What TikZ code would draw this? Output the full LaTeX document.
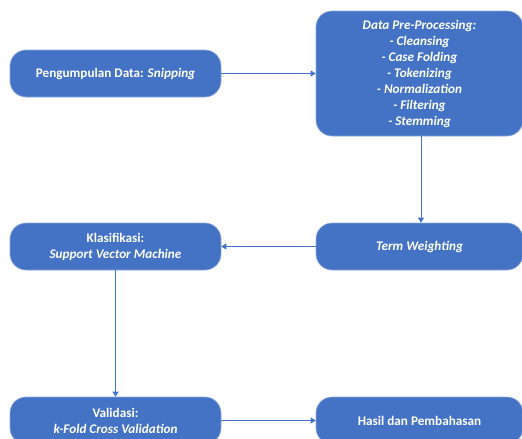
\documentclass[tikz,border=0pt]{standalone}
\usepackage{fontspec}
\setmainfont{Carlito}
\usetikzlibrary{arrows.meta}
\definecolor{boxblue}{HTML}{4472C4}
\definecolor{edgeblue}{HTML}{8FAADC}
\begin{document}
\begin{tikzpicture}[x=1pt,y=-1pt,
  stage/.style={draw=edgeblue, line width=0.6pt, fill=boxblue, rounded corners=16pt,
    text=white, font=\fontsize{13.2}{16}\selectfont\bfseries, align=center, inner sep=0pt},
  flow/.style={draw=boxblue, line width=0.9pt, -{Triangle[length=5pt,width=6pt]}}]
\useasboundingbox (0,0) rectangle (522,439);
\begin{scope}
\clip (0,0) rectangle (522,439);
\node[stage, minimum width=211pt, minimum height=47pt] (collect) at (115.5,73.5) {Pengumpulan Data: \textit{Snipping}};
\node[stage, minimum width=207pt, minimum height=125pt] (prep) at (419.5,73.5) {\textit{Data Pre-Processing:}\\\textit{- Cleansing}\\\textit{- Case Folding}\\\textit{- Tokenizing}\\\textit{- Normalization}\\\textit{- Filtering}\\\textit{- Stemming}};
\node[stage, minimum width=207pt, minimum height=47pt] (tw) at (419.5,246.5) {\textit{Term Weighting}};
\node[stage, minimum width=211pt, minimum height=47pt] (svm) at (115.5,246.5) {Klasifikasi:\\\textit{Support Vector Machine}};
\node[stage, minimum width=211pt, minimum height=47pt] (val) at (115.5,420.5) {Validasi:\\\textit{k-Fold Cross Validation}};
\node[stage, minimum width=207pt, minimum height=47pt] (res) at (419.5,420.5) {Hasil dan Pembahasan};
\end{scope}
\draw[flow] (collect.east) -- (prep.west |- collect.east);
\draw[flow] (prep.south -| tw.north) ++(1.5,0) coordinate (pd) -- (pd |- tw.north);
\draw[flow] (tw.west) -- (svm.east);
\draw[flow] (svm.south) -- (val.north);
\draw[flow] (val.east) -- (res.west);
\end{tikzpicture}
\end{document}
